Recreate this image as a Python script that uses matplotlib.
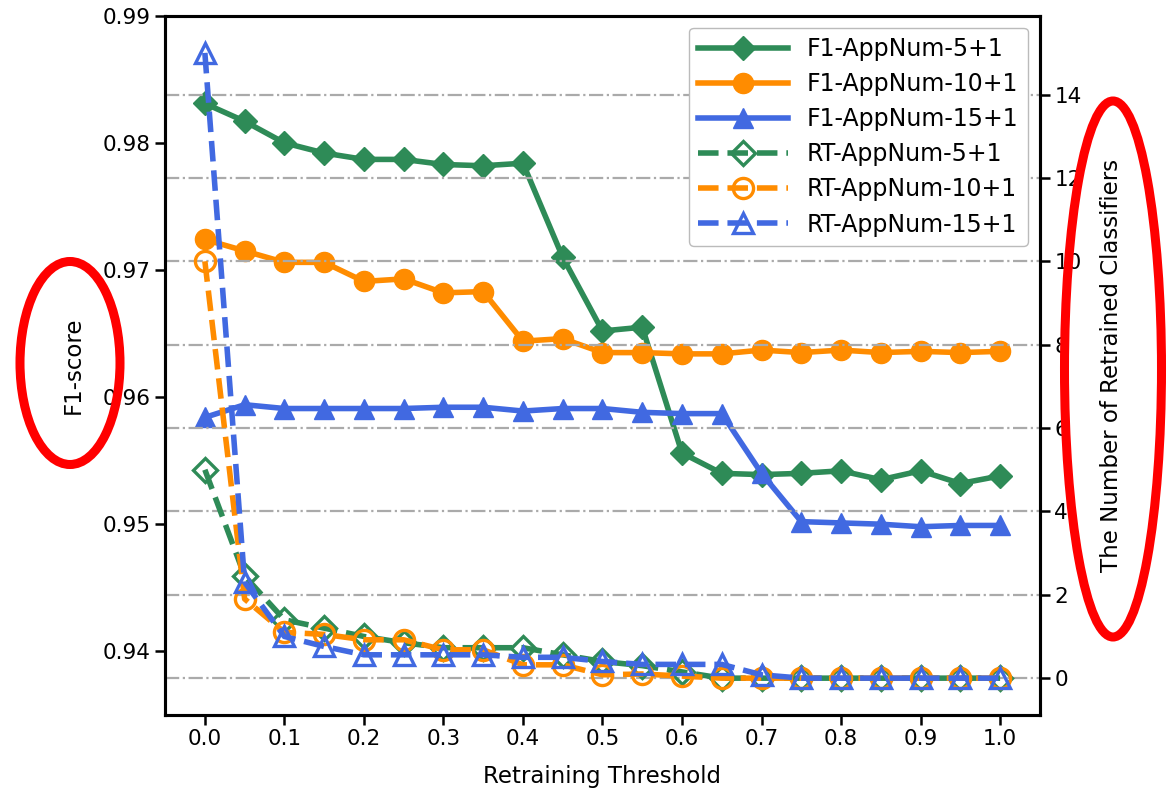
import matplotlib
matplotlib.use("Agg")
import matplotlib.pyplot as plt
from matplotlib.patches import Ellipse

thresholds = [0.0, 0.05, 0.1, 0.15, 0.2, 0.25, 0.3, 0.35, 0.4, 0.45, 0.5,
              0.55, 0.6, 0.65, 0.7, 0.75, 0.8, 0.85, 0.9, 0.95, 1.0]

f1_5 = [0.9831, 0.9817, 0.9800, 0.9792, 0.9787, 0.9787, 0.9783, 0.9782, 0.9784, 0.9710, 0.9652,
        0.9655, 0.9556, 0.9540, 0.9539, 0.9540, 0.9542, 0.9535, 0.9542, 0.9532, 0.9538]
f1_10 = [0.9724, 0.9715, 0.9706, 0.9706, 0.9691, 0.9693, 0.9682, 0.9683, 0.9644, 0.9646, 0.9635,
         0.9635, 0.9634, 0.9634, 0.9637, 0.9635, 0.9637, 0.9635, 0.9636, 0.9635, 0.9636]
f1_15 = [0.9584, 0.9594, 0.9591, 0.9591, 0.9591, 0.9591, 0.9592, 0.9592, 0.9589, 0.9591, 0.9591,
         0.9588, 0.9587, 0.9587, 0.9540, 0.9502, 0.9501, 0.9500, 0.9498, 0.9499, 0.9499]

rt_5 = [5.0, 2.45, 1.4, 1.2, 1.0, 0.85, 0.73, 0.73, 0.73, 0.56, 0.4,
        0.3, 0.15, 0.0, 0.0, 0.0, 0.0, 0.0, 0.0, 0.0, 0.0]
rt_10 = [10.0, 1.9, 1.1, 1.05, 0.92, 0.92, 0.68, 0.68, 0.32, 0.32, 0.08,
         0.1, 0.05, 0.0, 0.0, 0.0, 0.0, 0.0, 0.0, 0.0, 0.0]
rt_15 = [15.0, 2.3, 1.0, 0.76, 0.56, 0.56, 0.56, 0.56, 0.5, 0.5, 0.4,
         0.33, 0.33, 0.33, 0.08, 0.0, 0.0, 0.0, 0.0, 0.0, 0.0]

green = "#2E8B57"
orange = "#FF8C00"
blue = "#4169E1"
fs_tick = 15.5
fs_lab = 16.5

fig = plt.figure(figsize=(11.71, 7.89), dpi=100)
ax1 = fig.add_axes([0.141, 0.094, 0.747, 0.886])
ax2 = ax1.twinx()

lw = 4
l1, = ax1.plot(thresholds, f1_5, color=green, lw=lw, marker="D", ms=12.5, label="F1-AppNum-5+1")
l2, = ax1.plot(thresholds, f1_10, color=orange, lw=lw, marker="o", ms=14.5, label="F1-AppNum-10+1")
l3, = ax1.plot(thresholds, f1_15, color=blue, lw=lw, marker="^", ms=14.5, label="F1-AppNum-15+1")

l4, = ax2.plot(thresholds, rt_5, color=green, lw=lw, ls="--", marker="D", ms=12.5,
               mfc="none", mew=2.4, label="RT-AppNum-5+1")
l5, = ax2.plot(thresholds, rt_10, color=orange, lw=lw, ls="--", marker="o", ms=14.5,
               mfc="none", mew=2.4, label="RT-AppNum-10+1")
l6, = ax2.plot(thresholds, rt_15, color=blue, lw=lw, ls="--", marker="^", ms=14.5,
               mfc="none", mew=2.4, label="RT-AppNum-15+1")

ax1.set_xlim(-0.05, 1.05)
ax1.set_ylim(0.935, 0.99)
ax1.set_yticks([0.94, 0.95, 0.96, 0.97, 0.98, 0.99])
ax1.set_xticks([i / 10 for i in range(11)])
ax1.set_xticklabels([f"{i / 10:.1f}" for i in range(11)])
ax2.set_ylim(-0.88, 15.89)
ax2.set_yticks(range(0, 15, 2))

ax2.grid(True, ls="-.", color="#aaaaaa", lw=1.6)

for ax in (ax1, ax2):
    ax.tick_params(labelsize=fs_tick, length=7, width=1.8)
    for s in ax.spines.values():
        s.set_linewidth(2.2)

ax1.set_xlabel("Retraining Threshold", fontsize=fs_lab, labelpad=11)
ax1.set_ylabel("F1-score", fontsize=fs_lab, labelpad=13)
ax2.set_ylabel("The Number of Retrained Classifiers", fontsize=fs_lab, labelpad=13)

ax2.legend(handles=[l1, l2, l3, l4, l5, l6], loc="upper right", fontsize=17,
           handlelength=3.8, labelspacing=0.47, framealpha=1, edgecolor="#bbbbbb")

# red circles drawn on top of the two axis labels
fig.add_artist(Ellipse((70 / 1171, 1 - 363 / 789), 100 / 1171, 203 / 789,
                       transform=fig.transFigure, fill=False, ec="red", lw=6.5))
fig.add_artist(Ellipse((1113 / 1171, 1 - 369 / 789), 97 / 1171, 536 / 789,
                       transform=fig.transFigure, fill=False, ec="red", lw=6.5))

fig.savefig("out.png", dpi=100)
